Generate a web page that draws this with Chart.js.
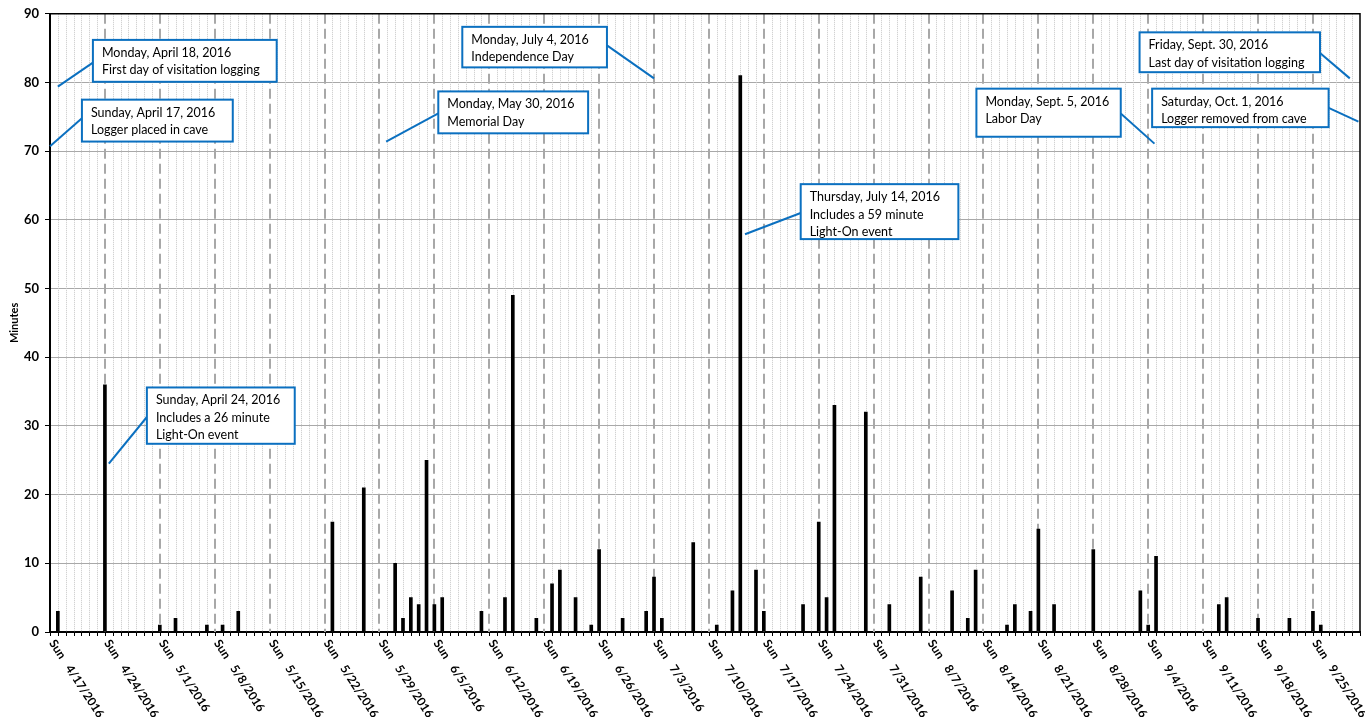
<!DOCTYPE html>
<html>
<head>
<meta charset="utf-8">
<script src="https://cdn.jsdelivr.net/npm/chart.js@4.4.1/dist/chart.umd.min.js"></script>
<style>
  body { margin: 0; background: #fff; }
  #wrap { width: 1365px; height: 717px; }
</style>
</head>
<body>
<div id="wrap"><canvas id="myChart"></canvas></div>
<script>
// first and last day on the axis
const startDate = '2016-04-17';
const endDate = '2016-10-01';

// days with visitation and total minutes of light-on
const visitDates = [
  '2016-04-18', '2016-04-24', '2016-05-01', '2016-05-03', '2016-05-07', '2016-05-09', '2016-05-11',
  '2016-05-23', '2016-05-27', '2016-05-31', '2016-06-01', '2016-06-02', '2016-06-03', '2016-06-04',
  '2016-06-05', '2016-06-06', '2016-06-11', '2016-06-14', '2016-06-15', '2016-06-18', '2016-06-20',
  '2016-06-21', '2016-06-23', '2016-06-25', '2016-06-26', '2016-06-29', '2016-07-02', '2016-07-03',
  '2016-07-04', '2016-07-08', '2016-07-11', '2016-07-13', '2016-07-14', '2016-07-16', '2016-07-17',
  '2016-07-22', '2016-07-24', '2016-07-25', '2016-07-26', '2016-07-30', '2016-08-02', '2016-08-06',
  '2016-08-10', '2016-08-12', '2016-08-13', '2016-08-17', '2016-08-18', '2016-08-20', '2016-08-21',
  '2016-08-23', '2016-08-28', '2016-09-03', '2016-09-04', '2016-09-05', '2016-09-13', '2016-09-14',
  '2016-09-18', '2016-09-22', '2016-09-25', '2016-09-26'
];
const visitMinutes = [
  3, 36, 1, 2, 1, 1, 3,
  16, 21, 10, 2, 5, 4, 25,
  4, 5, 3, 5, 49, 2, 7,
  9, 5, 1, 12, 2, 3, 8,
  2, 13, 1, 6, 81, 9, 3,
  4, 16, 5, 33, 32, 4, 8,
  6, 2, 9, 1, 4, 3, 15,
  4, 12, 6, 1, 11, 4, 5,
  2, 2, 3, 1
];

// sunday tick labels
const sundayLabels = [
  '4/17/2016', '4/24/2016', '5/1/2016', '5/8/2016', '5/15/2016', '5/22/2016', '5/29/2016',
  '6/5/2016', '6/12/2016', '6/19/2016', '6/26/2016', '7/3/2016', '7/10/2016', '7/17/2016',
  '7/24/2016', '7/31/2016', '8/7/2016', '8/14/2016', '8/21/2016', '8/28/2016', '9/4/2016',
  '9/11/2016', '9/18/2016', '9/25/2016'
];

// callouts: box corners [day, min, day, min], leader from -> tip
const notes = [
  { lines: ['Monday, April 18, 2016', 'First day of visitation logging'], box: [5.47, 86.2, 28.9, 80.1], from: [5.47, 82.9], tip: [1.0, 79.4] },
  { lines: ['Sunday, April 17, 2016', 'Logger placed in cave'], box: [4.07, 77.5, 23.3, 71.4], from: [4.07, 74.8], tip: [0, 70.7] },
  { lines: ['Sunday, April 24, 2016', 'Includes a 26 minute', 'Light-On event'], box: [12.35, 35.6, 31.2, 27.4], from: [12.35, 31.3], tip: [7.5, 24.5] },
  { lines: ['Monday, May 30, 2016', 'Memorial Day'], box: [49.5, 78.7, 68.6, 72.6], from: [49.5, 75.5], tip: [42.85, 71.4] },
  { lines: ['Monday, July 4, 2016', 'Independence Day'], box: [52.56, 88.1, 71.0, 82.2], from: [71.0, 85.4], tip: [77.0, 80.6] },
  { lines: ['Thursday, July 14, 2016', 'Includes a 59 minute', 'Light-On event'], box: [95.7, 65.2, 115.8, 57.2], from: [95.7, 61.0], tip: [88.6, 57.9] },
  { lines: ['Monday, Sept. 5, 2016', 'Labor Day'], box: [118.1, 79.1, 136.5, 72.1], from: [136.5, 75.5], tip: [140.8, 71.1] },
  { lines: ['Friday, Sept. 30, 2016', 'Last day of visitation logging'], box: [138.9, 87.3, 161.9, 81.5], from: [161.9, 84.3], tip: [165.7, 80.6] },
  { lines: ['Saturday, Oct. 1, 2016', 'Logger removed from cave'], box: [140.5, 79.1, 163.0, 73.5], from: [163.0, 76.3], tip: [166.8, 74.3] }
];

function dayOf(iso) {
  return Math.round((Date.parse(iso) - Date.parse(startDate)) / 86400000);
}
function dayOfUS(s) {
  const p = s.split('/');
  const iso = p[2] + '-' + p[0].padStart(2, '0') + '-' + p[1].padStart(2, '0');
  return dayOf(iso);
}
const lastDay = dayOf(endDate);

const blue = '#0B70C0';

const dayGrid = {
  id: 'dayGrid',
  beforeDatasetsDraw(chart) {
    const { ctx, chartArea: a, scales: { x } } = chart;
    ctx.save();
    // daily dotted lines
    ctx.strokeStyle = '#c8c8c8';
    ctx.lineWidth = 1;
    ctx.setLineDash([1, 1]);
    for (let d = 1; d < lastDay; d++) {
      if (d % 7 === 0) continue;
      const px = Math.round(x.getPixelForValue(d)) + 0.5;
      ctx.beginPath();
      ctx.moveTo(px, a.top);
      ctx.lineTo(px, a.bottom);
      ctx.stroke();
    }
    // sunday dashed lines
    ctx.strokeStyle = '#a8a8a8';
    ctx.lineWidth = 2;
    ctx.setLineDash([10, 5]);
    sundayLabels.forEach(s => {
      const d = dayOfUS(s);
      if (d === 0) return;
      const px = Math.round(x.getPixelForValue(d));
      ctx.beginPath();
      ctx.moveTo(px, a.top);
      ctx.lineTo(px, a.bottom);
      ctx.stroke();
    });
    ctx.restore();
  },
  afterDraw(chart) {
    const { ctx, chartArea: a, scales: { x, y } } = chart;
    ctx.save();
    // frame
    ctx.strokeStyle = '#000';
    ctx.lineWidth = 1.5;
    ctx.beginPath();
    ctx.moveTo(a.left, a.top);
    ctx.lineTo(a.right, a.top);
    ctx.lineTo(a.right, a.bottom);
    ctx.stroke();

    // day tick marks
    ctx.lineWidth = 1;
    for (let d = 0; d <= lastDay; d++) {
      const px = Math.round(x.getPixelForValue(d)) + 0.5;
      ctx.beginPath();
      ctx.moveTo(px, a.bottom);
      ctx.lineTo(px, a.bottom + 4);
      ctx.stroke();
    }

    // rotated x labels
    ctx.fillStyle = '#000';
    ctx.font = 'bold 12px Lato';
    ctx.textAlign = 'left';
    ctx.textBaseline = 'middle';
    sundayLabels.forEach(s => {
      const px = x.getPixelForValue(dayOfUS(s));
      ctx.save();
      ctx.translate(px + 2, a.bottom + 9);
      ctx.rotate(57 * Math.PI / 180);
      ctx.fillText('Sun', 0, 0);
      ctx.fillText(s, 30, 0);
      ctx.restore();
    });

    // callouts
    ctx.font = '12.5px Lato';
    ctx.textBaseline = 'middle';
    notes.forEach(n => {
      const x1 = x.getPixelForValue(n.box[0]), y1 = y.getPixelForValue(n.box[1]);
      const x2 = x.getPixelForValue(n.box[2]), y2 = y.getPixelForValue(n.box[3]);
      ctx.strokeStyle = blue;
      ctx.lineWidth = 2;
      ctx.beginPath();
      ctx.moveTo(x.getPixelForValue(n.from[0]), y.getPixelForValue(n.from[1]));
      ctx.lineTo(x.getPixelForValue(n.tip[0]), y.getPixelForValue(n.tip[1]));
      ctx.stroke();
      ctx.fillStyle = '#fff';
      ctx.fillRect(x1, y1, x2 - x1, y2 - y1);
      ctx.strokeRect(x1, y1, x2 - x1, y2 - y1);
      ctx.fillStyle = '#000';
      n.lines.forEach((t, i) => {
        ctx.fillText(t, x1 + 9, y1 + 13 + i * 17.5);
      });
    });
    ctx.restore();
  }
};

const config = {
  type: 'bar',
  data: {
    datasets: [{
      label: 'Minutes',
      data: visitDates.map((d, i) => ({ x: dayOf(d), y: visitMinutes[i] })),
      backgroundColor: '#000',
      borderWidth: 0,
      barThickness: 3
    }]
  },
  options: {
    responsive: true,
    maintainAspectRatio: false,
    animation: false,
    layout: { padding: { top: 12, right: 5, left: 0, bottom: 0 } },
    plugins: {
      legend: { display: false },
      tooltip: { enabled: false }
    },
    scales: {
      x: {
        type: 'linear',
        offset: false,
        min: 0,
        max: lastDay,
        grid: { display: false, offset: false },
        border: { display: true, color: '#000', width: 2 },
        ticks: { display: false },
        afterFit: s => { s.height = 85; }
      },
      y: {
        min: 0,
        max: 90,
        ticks: {
          stepSize: 10,
          color: '#000',
          padding: 6,
          font: { family: 'Lato', size: 13, weight: 'bold' }
        },
        grid: { color: '#a8a8a8', lineWidth: 1, tickColor: '#000', tickLength: 5 },
        border: { display: true, color: '#000', width: 2 },
        title: {
          display: true,
          text: 'Minutes',
          color: '#000',
          padding: { top: 8, bottom: 0 },
          font: { family: 'Lato', size: 11, weight: 'bold' }
        },
        afterFit: s => { s.width = 50; }
      }
    }
  },
  plugins: [dayGrid]
};

var ctx = document.getElementById('myChart').getContext('2d');
var chart = new Chart(ctx, config);
</script>
</body>
</html>
